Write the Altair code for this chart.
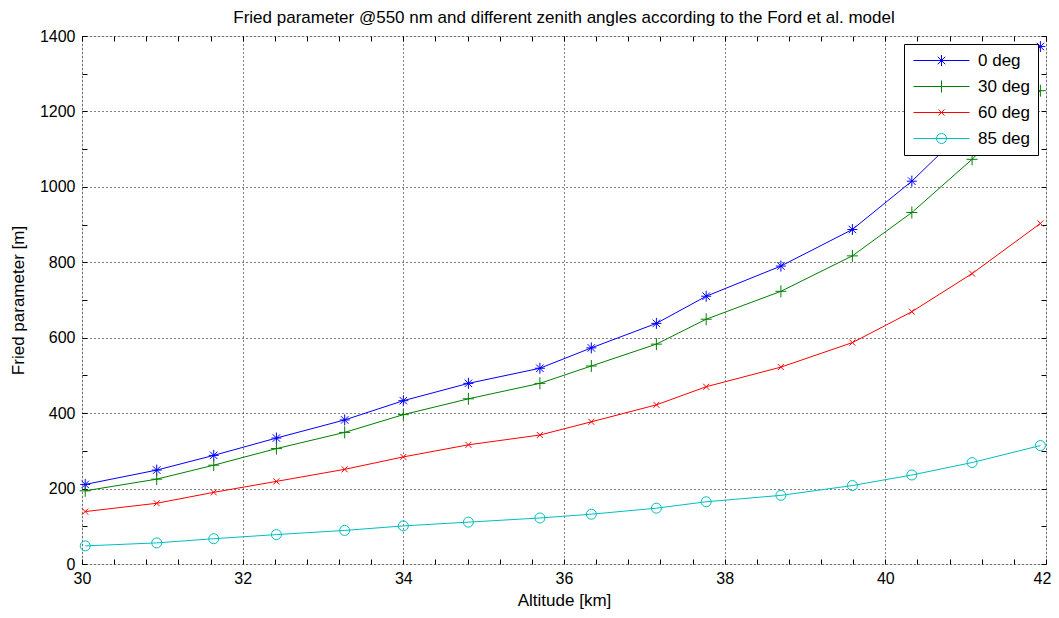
import altair as alt
import pandas as pd

# ---- data ----
altitude_km = [30.04, 30.93, 31.64, 32.42, 33.27, 34.00, 34.81, 35.70,
               36.34, 37.15, 37.77, 38.70, 39.59, 40.33, 41.08, 41.93]
r0_0deg = [211, 249, 288, 334, 382, 433, 479, 519, 573, 638, 710, 790, 887, 1015, 1170, 1372]
r0_30deg = [194, 225, 262, 306, 349, 396, 438, 479, 525, 583, 649, 723, 817, 932, 1073, 1255]
r0_60deg = [139, 161, 190, 219, 251, 284, 316, 342, 377, 422, 470, 522, 587, 669, 770, 903]
r0_85deg = [48, 56, 67, 78, 89, 101, 111, 122, 132, 148, 165, 182, 208, 236, 269, 314]

series_names = ["0 deg", "30 deg", "60 deg", "85 deg"]
series_values = [r0_0deg, r0_30deg, r0_60deg, r0_85deg]
series_colors = ["#0000FF", "#008000", "#FF0000", "#00BFBF"]

x_label_values = [30, 32, 34, 36, 38, 40, 42]
y_label_values = [0, 200, 400, 600, 800, 1000, 1200, 1400]
x_minor_values = [round(30 + 0.4 * i, 1) for i in range(31)]
y_minor_values = list(range(0, 1401, 100))

# marker glyphs (stroked paths)
marker_paths = [
    "M-1,0H1M0,-1.1V1.1M-0.75,-0.75L0.75,0.75M-0.75,0.75L0.75,-0.75",
    "M-1.1,0H1.1M0,-1.2V1.2",
    "M-0.6,-0.6L0.6,0.6M-0.6,0.6L0.6,-0.6",
    "M1,0A1,1,0,1,1,-1,0A1,1,0,1,1,1,0Z",
]
legend_paths = ["M-5.6,0H5.6" + p for p in marker_paths]

rows = []
for name, vals in zip(series_names, series_values):
    for a, v in zip(altitude_km, vals):
        rows.append({"altitude": a, "r0": v, "series": name})
df = pd.DataFrame(rows)

FONT = "Liberation Sans"
xs = alt.Scale(domain=[30, 42], nice=False, zero=False)
ys = alt.Scale(domain=[0, 1400], nice=False, zero=True)
cs = alt.Scale(domain=series_names, range=series_colors)

base = alt.Chart(df)

lines = base.mark_line(strokeWidth=1).encode(
    x=alt.X("altitude:Q", scale=xs, axis=alt.Axis(
        values=x_label_values, format="d", title="Altitude [km]",
        grid=True, gridDash=[1, 3], gridColor="black", gridOpacity=1, gridWidth=1,
        ticks=False, domain=False, labelPadding=6, labelFontSize=16,
        labelOffset={"condition": {"test": "datum.value >= 41.9", "value": -4}, "value": 0},
        labelColor="black", labelFont=FONT, titleFont=FONT, titleFontSize=17,
        titleFontWeight="normal", titleColor="black", titlePadding=6,
        labelFlush=False, labelOverlap=False)),
    y=alt.Y("r0:Q", scale=ys, axis=alt.Axis(
        values=y_label_values, format="d", title="Fried parameter [m]",
        grid=True, gridDash=[1, 3], gridColor="black", gridOpacity=1, gridWidth=1,
        ticks=False, domain=False, labelPadding=7, labelFontSize=16,
        labelColor="black", labelFont=FONT, titleFont=FONT, titleFontSize=17,
        titleFontWeight="normal", titleColor="black", titlePadding=12,
        labelFlush=False, labelOverlap=False)),
    color=alt.Color("series:N", scale=cs, legend=None),
)

points = base.mark_point(filled=False, size=100, strokeWidth=1, opacity=1).encode(
    x=alt.X("altitude:Q", scale=xs, axis=None),
    y=alt.Y("r0:Q", scale=ys, axis=None),
    color=alt.Color("series:N", scale=cs, legend=None),
    shape=alt.Shape("series:N", scale=alt.Scale(domain=series_names, range=marker_paths), legend=None),
)

leg = alt.Legend(
    title=None, orient="top-right", offset=8, padding=8,
    strokeColor="black", fillColor="white",
    labelFont=FONT, labelFontSize=17, labelColor="black",
    symbolSize=100, symbolStrokeWidth=1, symbolOffset=21, labelOffset=28,
    rowPadding=8,
)
legend_layer = base.transform_filter("datum.r0 < 0").mark_point(
    filled=False, size=100, strokeWidth=1, opacity=1).encode(
    x=alt.X("altitude:Q", scale=xs, axis=None),
    y=alt.Y("r0:Q", scale=ys, axis=None),
    color=alt.Color("series:N", scale=cs, legend=leg),
    shape=alt.Shape("series:N", scale=alt.Scale(domain=series_names, range=legend_paths), legend=leg),
)

def tick_axis(orient, values):
    return alt.Axis(orient=orient, values=values, labels=False, domain=False,
                    grid=False, ticks=True, tickSize=5, tickColor="black",
                    tickWidth=1, offset=-5, title=None, minExtent=0, maxExtent=0)

ticks_bl = base.transform_filter("datum.r0 < 0").mark_point(opacity=0).encode(
    x=alt.X("altitude:Q", scale=xs, axis=tick_axis("bottom", x_minor_values)),
    y=alt.Y("r0:Q", scale=ys, axis=tick_axis("left", y_minor_values)),
)
ticks_tr = base.transform_filter("datum.r0 < 0").mark_point(opacity=0).encode(
    x=alt.X("altitude:Q", scale=xs, axis=tick_axis("top", x_minor_values)),
    y=alt.Y("r0:Q", scale=ys, axis=tick_axis("right", y_minor_values)),
)

chart = alt.layer(lines, points, legend_layer, ticks_bl, ticks_tr).resolve_scale(
    color="independent", shape="independent"
).resolve_axis(
    x="independent", y="independent"
).properties(
    width=964, height=528,
    title=alt.Title("Fried parameter @550 nm and different zenith angles according to the Ford et al. model",
                    font=FONT, fontSize=17, fontWeight="normal", color="black",
                    anchor="middle", offset=1, frame="group"),
    autosize=alt.AutoSizeParams(type="none"),
    padding={"left": 74, "top": 28, "right": 5, "bottom": 46},
).configure_view(
    stroke="black", strokeWidth=1
).configure(background="white")

chart.save("out.html", embed_options={"renderer": "svg", "actions": False})
